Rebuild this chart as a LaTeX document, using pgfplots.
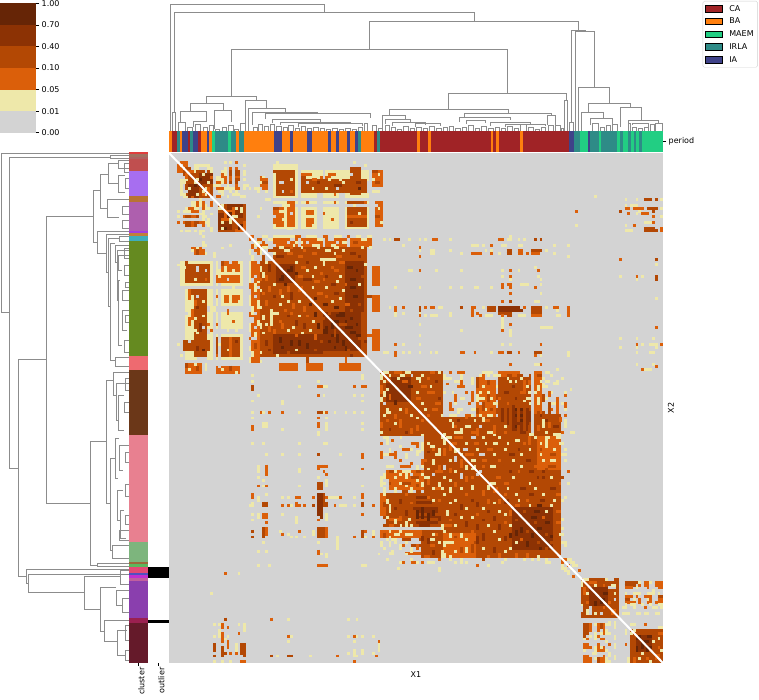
\documentclass[border=0pt]{standalone}
\usepackage{fontspec}
\setmainfont{DejaVu Sans}
\usepackage{pgfplots}
\usepackage{pgfplotstable}
\pgfplotsset{compat=1.18}
\definecolor{h0}{HTML}{D3D3D3}\definecolor{h1}{HTML}{EEE8AA}\definecolor{h2}{HTML}{DB5F0A}
\definecolor{h3}{HTML}{B34804}\definecolor{h4}{HTML}{8C3204}\definecolor{h5}{HTML}{662506}
\definecolor{pCA}{HTML}{A02326}\definecolor{pBA}{HTML}{FF7F0E}\definecolor{pMA}{HTML}{22CE83}
\definecolor{pIR}{HTML}{2E8B87}\definecolor{pIA}{HTML}{3F4289}
\definecolor{c1}{HTML}{E03C3C}\definecolor{c2}{HTML}{A07060}\definecolor{c3}{HTML}{B06060}\definecolor{c4}{HTML}{C04F4F}
\definecolor{c5}{HTML}{A76EF0}\definecolor{c6}{HTML}{B87333}\definecolor{c7}{HTML}{AE5FAE}\definecolor{c8}{HTML}{A040E0}
\definecolor{c9}{HTML}{C0803A}\definecolor{c10}{HTML}{3FAEBB}\definecolor{c11}{HTML}{658A20}\definecolor{c12}{HTML}{EE6A70}
\definecolor{c13}{HTML}{6B3718}\definecolor{c14}{HTML}{E88090}\definecolor{c15}{HTML}{7DB57D}\definecolor{c16}{HTML}{9B6B3B}
\definecolor{c17}{HTML}{5CB85C}\definecolor{c18}{HTML}{E34A75}\definecolor{c19}{HTML}{5050C0}\definecolor{c20}{HTML}{C030D0}
\definecolor{c21}{HTML}{C05F9F}\definecolor{c22}{HTML}{8A3FAE}\definecolor{c23}{HTML}{9B2050}\definecolor{c24}{HTML}{651A2A}
\pgfplotsset{heatmap cm/.style={colormap={heat}{color=(h0) color=(h1) color=(h2) color=(h3) color=(h4) color=(h5)},point meta min=0,point meta max=5},
 dd/.style={draw=black!45,line width=0.55pt,no marks}}
\pgfplotstableread{
x l c
169 2.7 1
171.7 5.3 0
177 3 3
180 2.3 1
182.3 5.4 4
187.7 2.6 0
190.3 2.7 3
193 5.3 4
198.3 2.7 0
201 5.7 1
206.7 2.6 4
209.3 2.7 1
212 3 2
215 13.3 3
228.3 2.7 2
231 5.3 3
236.3 2.7 1
239 5.3 3
244.3 30 1
274.3 8 4
282.3 8 1
290.3 2.7 4
293 13.7 1
306.7 5.3 4
312 16.3 1
328.3 2.7 4
331 5.3 1
336.3 2.7 4
339 8.3 1
347.3 2.7 4
350 5.3 1
355.3 2.7 4
358 2.7 3
360.7 13.6 1
374.3 2.7 0
377 2.7 3
379.7 37.6 0
417.3 2.7 1
420 8.3 0
428.3 2.7 1
431 59.7 0
490.7 2.6 1
493.3 2.7 0
496 2.7 1
498.7 21.3 0
520 2.7 1
522.7 46.3 0
569 5.3 4
574.3 5.3 3
579.7 8.3 2
588 2.3 4
590.3 8.7 3
599 2.3 2
601.3 16 3
617.3 2.7 2
620 2.7 3
622.7 5.6 2
628.3 2.7 3
631 2.7 2
633.7 2.6 3
636.3 2.7 2
639 2.7 3
641.7 21.3 2
}\per
\pgfplotstableread{
i j l c
14 47 14 0
14 54 14 0
14 55 14 0
14 62 14 0
14 63 14 0
15 73 13 0
4 47 5 0
4 56 5 0
4 65 1 0
38 16 40 0
38 18 3 0
46 18 30 0
38 27 42 0
46 23 4 1
54 16 2 1
30 47 3 0
30 56 3 0
30 65 3 0
48 15 24 1
65 22 7 2
18 19 2 1
20 20 3 2
24 19 1 1
23 22 2 1
19 23 3 2
25 25 2 5
21 21 2 5
26 20 1 5
19 26 2 1
24 27 3 2
4 3 3 2
5 4 2 2
9 4 6 1
6 5 2 3
9 5 2 1
14 5 2 1
7 6 2 2
9 6 1 1
13 6 1 0
15 6 1 1
12 7 1 1
15 8 1 2
10 9 1 1
14 10 1 1
11 11 1 5
13 12 1 1
14 13 1 1
11 9 1 5
12 14 2 2
20 3 1 1
22 3 1 1
24 3 1 2
27 4 1 1
20 5 1 1
22 5 1 2
24 5 1 2
19 6 2 1
22 6 1 3
24 6 2 3
27 6 1 1
19 7 1 2
20 7 1 1
22 7 1 3
24 7 2 3
27 7 1 1
17 8 2 1
19 8 2 2
22 8 1 2
24 8 2 2
17 9 3 1
20 9 1 2
22 9 1 2
24 9 2 3
27 9 1 1
17 10 2 2
19 10 1 1
20 10 1 2
22 10 1 3
24 10 1 3
16 11 3 1
21 11 1 1
24 11 1 2
27 11 2 1
17 12 3 2
20 12 4 1
24 12 2 2
27 12 1 1
29 12 1 1
18 13 2 1
22 13 1 1
24 13 1 1
19 14 1 1
23 14 3 1
17 15 2 2
21 15 1 1
26 15 2 1
33 8 1 2
34 8 1 1
33 9 3 2
33 10 1 1
34 10 2 3
33 11 3 2
31 12 2 1
34 12 2 2
32 13 1 1
35 13 1 1
39 3 1 1
38 6 5 3
44 5 1 1
40 5 1 1
38 9 1 1
43 6 3 3
48 6 2 1
52 6 3 1
58 6 2 1
61 6 4 1
67 3 1 1
71 4 1 1
48 7 4 2
54 7 3 1
58 7 3 2
61 7 2 1
48 8 2 3
51 8 3 1
55 8 4 2
60 8 4 1
40 10 2 0
44 9 1 1
41 13 1 0
44 13 1 2
52 9 2 2
58 9 1 1
62 9 1 1
50 10 1 0
54 10 1 4
60 11 3 4
63 10 1 1
52 12 1 1
57 12 1 1
61 12 1 0
50 14 2 1
56 14 1 1
60 14 1 2
62 15 1 2
72 9 1 1
66 7 1 0
68 10 2 4
69 12 1 5
74 6 2 3
76 7 1 1
74 9 1 1
75 10 2 3
74 13 3 1
35 16 2 1
33 19 1 1
32 22 1 1
38 19 2 3
40 20 2 1
38 22 1 0
41 23 1 1
39 25 3 2
43 18 1 1
44 21 1 0
46 17 1 1
43 26 2 1
50 17 1 2
50 19 2 1
52 20 1 2
50 22 3 1
51 24 1 2
52 25 1 1
56 17 2 1
60 17 1 2
58 19 4 1
55 21 2 2
60 21 3 1
56 23 2 1
59 23 1 2
62 24 1 1
57 25 3 1
67 18 1 1
69 21 1 1
71 17 1 2
66 24 1 4
76 19 1 1
75 22 2 3
77 24 1 1
29 29 2 2
34 29 2 1
38 29 8 1
46 29 2 2
50 29 4 1
56 29 2 2
60 29 3 1
65 29 1 2
68 29 2 1
72 29 2 1
32 30 2 2
36 30 2 1
41 30 1 2
44 30 2 0
47 30 2 2
51 30 2 2
54 30 3 1
58 30 2 0
62 30 2 2
66 30 3 2
70 30 2 1
31 31 2 1
34 31 1 2
39 31 2 2
43 31 1 0
46 31 3 1
50 31 1 0
53 31 2 2
57 31 3 2
61 31 1 0
63 31 2 1
67 31 2 3
33 32 3 2
38 32 1 0
40 32 3 2
45 32 1 1
48 32 2 2
52 32 3 1
56 32 1 2
59 32 2 1
64 32 2 2
69 32 3 2
34 33 2 1
40 33 2 1
44 33 1 2
48 33 1 1
54 33 1 1
60 33 2 1
70 33 1 1
36 34 2 3
42 34 2 1
49 34 1 2
57 34 2 1
63 34 1 1
38 35 1 1
43 35 2 2
52 35 2 2
60 35 1 1
66 35 2 4
39 36 3 4
47 36 2 2
55 37 6 1
61 36 2 2
69 36 1 4
73 33 1 1
46 38 1 1
50 38 1 4
56 38 1 1
56 39 1 1
62 38 2 2
71 39 1 1
44 40 1 5
48 40 2 2
53 40 1 1
59 40 1 2
65 40 2 5
43 41 2 5
50 41 1 1
55 42 1 2
60 41 2 2
68 41 1 5
46 42 1 5
47 43 2 2
52 43 1 1
57 43 1 4
62 43 1 1
70 43 1 3
49 44 3 4
56 44 1 2
61 45 1 1
66 44 2 5
53 45 2 2
59 46 2 4
64 46 1 2
69 46 1 1
52 47 1 1
48 47 1 2
57 47 1 1
66 47 2 5
63 48 1 1
54 49 2 2
60 49 2 4
50 50 1 4
57 50 1 2
67 50 2 5
53 51 1 5
62 51 1 1
59 52 1 1
64 53 2 2
56 53 2 5
69 53 1 3
60 54 2 5
66 55 1 3
58 56 1 3
62 56 2 5
68 56 1 4
61 57 3 5
66 58 1 5
71 58 1 3
64 59 1 5
60 59 2 5
62 60 3 3
68 60 1 5
64 61 3 5
70 62 1 3
66 63 2 5
68 64 2 5
69 65 1 3
71 66 1 4
70 67 1 3
72 64 3 2
72 50 2 3
78 30 1 1
80 30 1 1
82 30 2 3
87 30 1 1
91 30 1 1
93 30 1 1
96 30 2 2
102 30 1 1
120 30 2 2
123 30 2 1
127 30 1 1
129 30 1 1
133 30 1 3
135 30 1 3
124 29 1 1
85 32 1 1
110 32 3 1
114 32 1 1
117 32 1 2
121 32 2 1
127 32 2 1
140 32 1 1
145 32 1 1
91 33 1 2
91 34 1 1
95 34 2 1
95 35 2 1
102 34 1 1
106 35 1 1
110 35 4 2
115 34 1 1
117 34 1 1
117 35 1 2
120 35 1 1
123 34 2 3
123 35 2 3
127 34 2 2
127 35 2 2
130 35 1 2
132 34 4 3
132 35 3 2
137 34 1 1
140 35 1 1
145 36 1 1
91 36 1 2
164 37 1 2
177 37 1 3
177 39 1 1
133 40 1 1
87 41 2 1
91 41 1 2
97 41 1 1
106 41 1 1
121 41 1 1
124 41 1 2
127 41 1 1
134 41 1 2
121 43 1 1
124 43 1 2
134 43 1 1
164 43 1 1
170 43 1 2
172 43 1 1
177 43 1 3
177 44 1 3
124 44 1 1
135 44 1 1
170 44 1 1
82 47 1 1
91 47 1 1
102 47 1 1
106 47 1 1
111 47 2 1
117 47 1 1
121 46 1 2
121 47 1 2
123 46 2 2
124 47 1 2
128 46 3 1
133 47 1 2
135 46 1 1
124 49 1 2
135 49 1 1
177 51 1 1
124 52 1 3
121 52 1 2
133 52 2 1
80 54 1 1
82 54 1 2
85 54 1 2
91 54 1 3
93 54 1 2
95 54 2 2
98 54 2 1
106 54 1 3
110 54 2 2
114 54 1 1
116 54 3 3
120 54 8 4
129 54 1 2
132 54 4 3
137 54 1 1
140 54 2 2
145 54 1 2
82 55 1 2
91 55 1 3
110 55 1 2
116 55 3 3
120 55 9 4
132 55 4 3
141 55 1 1
145 55 1 2
82 56 1 1
85 56 1 1
91 56 1 1
102 56 1 1
110 56 1 2
112 56 1 2
120 56 5 3
132 56 4 3
145 56 1 2
82 57 1 1
91 57 1 2
93 57 1 1
95 57 3 1
102 57 1 1
110 57 1 2
113 57 1 2
115 57 3 1
121 57 1 2
123 57 2 3
127 57 3 1
132 57 4 2
141 57 2 1
145 57 1 2
121 58 1 1
121 59 1 1
121 60 1 1
121 61 1 1
124 60 1 2
121 62 1 2
124 62 1 1
124 63 1 1
124 64 1 1
91 60 1 1
91 64 1 1
106 62 1 1
135 61 5 1
177 61 1 2
164 65 1 1
170 65 1 1
176 65 1 1
82 67 1 2
85 67 1 1
91 67 1 1
121 67 1 1
124 67 1 1
135 67 1 2
170 67 1 2
172 67 1 1
175 67 2 1
177 67 1 1
179 67 1 2
164 68 1 1
170 68 1 1
177 68 1 1
78 70 2 1
82 70 1 2
85 70 1 1
87 70 1 1
91 70 1 1
95 70 1 1
97 70 1 1
106 70 2 2
111 70 1 2
117 70 1 1
120 70 2 2
123 70 2 3
127 70 1 2
133 70 3 3
145 70 1 1
170 70 1 1
175 70 2 1
82 71 1 2
133 71 1 2
135 71 1 1
145 71 1 1
124 74 1 2
133 74 2 1
135 74 1 2
170 74 1 1
176 74 1 1
177 75 1 2
172 76 1 2
173 76 3 1
166 16 1 1
170 16 1 1
173 16 3 3
177 16 1 3
179 16 1 1
155 15 1 1
166 18 1 1
168 18 3 1
166 19 2 2
169 19 4 2
174 19 4 3
179 19 1 1
148 20 1 2
164 20 1 3
171 20 1 1
176 20 1 3
167 21 1 2
170 21 1 1
172 21 3 2
176 22 1 2
179 22 1 1
173 24 3 1
176 24 1 2
148 25 1 1
166 25 1 1
169 25 1 2
173 26 4 3
179 26 1 2
166 27 3 1
173 27 5 3
179 27 1 2
78 77 2 1
82 77 3 2
86 77 2 1
90 77 4 3
95 77 2 2
98 77 1 1
102 77 1 2
105 77 3 2
114 77 4 1
120 77 8 2
133 77 3 2
137 77 2 1
141 76 1 1
80 78 1 1
84 78 2 1
88 78 1 0
92 78 1 1
96 78 2 3
113 78 2 1
118 78 2 1
121 78 2 2
125 78 3 2
129 78 2 0
134 78 2 3
139 78 1 1
83 79 1 1
90 79 2 1
94 79 1 2
100 79 3 1
106 79 1 1
112 79 2 2
122 79 2 1
128 79 1 1
136 79 1 1
143 79 1 1
85 80 2 2
91 80 1 1
97 80 1 4
104 80 2 1
110 81 1 1
116 81 2 2
124 80 3 1
133 80 1 1
135 80 1 1
137 80 2 1
140 81 1 1
87 82 2 5
92 82 2 2
95 82 1 1
105 82 3 2
112 82 1 1
114 82 1 1
118 82 2 1
125 82 1 4
129 82 2 1
137 82 1 1
146 83 1 1
86 84 1 4
90 84 1 1
94 84 3 2
103 84 1 1
108 84 1 2
113 84 1 1
116 84 1 1
122 84 2 4
128 84 1 2
133 84 1 1
138 84 2 1
144 84 1 1
90 86 2 2
98 86 1 4
106 86 2 1
110 86 1 2
112 86 3 1
117 86 1 1
120 86 1 2
126 86 2 4
130 86 2 1
137 86 1 1
141 86 1 1
92 88 1 1
97 88 2 2
104 88 1 1
109 88 1 2
113 88 1 0
118 88 2 1
123 88 1 2
131 88 1 1
134 88 1 1
139 88 2 1
143 88 1 1
93 90 1 1
96 90 2 2
102 90 2 2
106 90 1 1
110 90 2 1
115 90 1 1
118 90 1 2
126 90 3 5
133 91 3 2
138 90 2 2
144 90 1 1
94 92 1 2
99 92 1 1
103 92 2 1
108 92 2 2
113 92 1 1
116 92 2 1
125 92 4 5
135 92 2 4
141 92 2 3
102 94 1 1
105 94 1 4
111 94 1 1
115 94 2 2
121 94 1 2
127 94 3 5
136 94 2 4
144 94 1 1
108 96 2 1
113 96 1 0
118 96 1 1
122 96 1 1
126 96 2 5
134 96 1 1
140 96 2 4
144 96 1 1
104 98 3 1
110 98 2 2
116 98 2 1
122 98 1 2
128 98 2 4
137 98 1 1
143 98 1 2
146 98 2 1
100 99 1 1
118 99 1 1
131 99 2 1
140 99 3 1
101 100 2 1
104 100 3 2
110 100 2 0
114 100 1 1
120 100 1 1
126 101 2 1
133 100 1 1
137 100 2 1
141 100 2 1
103 102 2 2
108 102 1 1
111 102 2 2
115 102 1 1
118 102 2 1
123 102 1 1
129 102 1 2
134 102 2 1
138 102 1 2
142 102 2 1
104 104 2 1
107 104 2 0
112 104 1 1
116 104 2 2
122 104 1 1
127 104 1 4
131 104 1 1
135 104 1 3
140 104 1 1
144 104 1 1
106 106 1 1
108 106 3 2
113 106 2 0
118 106 1 1
124 106 2 4
128 106 1 1
134 106 2 1
139 106 2 3
143 106 2 1
108 108 1 2
110 108 2 1
114 108 2 2
120 108 1 2
125 108 1 1
130 108 2 4
136 108 1 1
140 108 1 1
144 108 1 1
111 110 1 1
114 110 1 2
117 110 2 1
122 110 1 4
128 110 1 1
133 110 2 2
138 110 3 3
113 112 1 0
116 112 2 3
123 112 2 4
127 112 1 2
131 112 2 4
135 112 3 4
141 112 2 3
145 112 1 2
115 114 2 3
119 114 2 2
125 114 1 1
129 114 1 4
134 114 3 4
139 114 1 1
143 114 1 3
117 116 2 1
122 116 2 2
126 116 1 4
131 116 1 1
136 116 2 3
142 116 1 2
145 116 1 1
119 118 1 2
123 118 1 1
128 118 2 4
133 118 1 1
139 118 2 4
122 120 2 2
126 120 1 1
131 120 2 4
136 120 1 1
141 120 2 2
144 121 1 1
123 122 1 4
127 122 1 1
130 122 1 2
135 122 2 4
140 122 1 1
143 122 1 1
126 124 2 2
131 124 1 1
134 124 2 5
139 124 1 1
129 126 1 3
133 126 2 5
137 126 1 1
141 126 2 2
132 128 2 5
136 128 1 2
140 128 1 3
143 129 1 1
133 130 1 3
137 130 2 5
141 130 2 2
134 132 2 5
140 132 1 3
143 132 1 1
137 134 1 3
139 135 1 5
142 134 2 1
139 137 2 3
144 138 1 1
143 137 2 1
145 143 2 1
146 144 2 1
147 145 2 1
149 147 1 2
143 143 2 2
145 145 1 2
146 146 1 1
151 150 2 1
153 151 3 2
159 150 1 1
160 150 2 0
160 153 3 0
161 152 2 1
162 155 1 1
158 152 1 2
162 157 1 0
155 152 1 1
156 154 1 4
158 155 2 5
157 157 2 5
160 158 1 2
159 160 3 3
161 161 2 2
166 151 5 3
171 151 1 1
173 151 2 2
175 151 1 1
177 151 3 2
166 152 4 3
171 152 1 2
173 152 2 2
177 152 3 2
166 153 3 2
170 153 1 1
174 153 1 2
178 153 2 2
170 154 3 0
176 154 1 1
166 155 1 1
169 155 3 1
174 155 3 1
178 155 1 1
166 156 3 2
170 156 1 2
173 156 3 2
178 156 2 3
166 157 2 3
169 157 1 1
171 157 1 2
174 157 1 1
175 157 1 2
178 157 2 2
166 158 4 2
171 158 1 2
174 158 2 2
177 158 3 2
166 159 1 1
168 159 2 1
172 159 1 1
175 159 1 1
178 159 2 1
165 160 2 1
169 160 1 1
173 160 1 2
176 160 2 1
179 160 1 1
165 162 3 1
170 162 2 1
173 162 2 1
177 162 2 1
168 166 2 1
173 166 1 2
178 167 2 1
169 168 1 1
175 168 1 3
176 169 1 3
178 169 2 2
171 170 1 5
174 170 2 5
173 172 2 5
178 171 1 1
176 172 1 1
174 174 2 5
178 174 1 2
175 175 1 3
179 175 1 1
177 177 2 2
178 178 2 3
78 100 2 1
81 101 1 2
84 100 1 1
88 102 2 2
92 102 1 1
95 103 2 1
85 104 3 2
90 105 2 1
96 104 1 2
78 106 1 1
80 106 3 2
86 107 1 1
92 108 2 2
97 106 1 1
79 110 2 1
84 110 4 2
92 110 1 1
95 110 2 3
79 112 4 3
85 112 3 1
90 112 2 3
97 112 3 2
78 114 2 2
82 114 1 1
88 114 3 3
93 114 2 1
97 115 2 3
78 116 1 1
80 116 2 3
85 116 3 3
90 117 1 3
93 117 4 3
96 118 3 2
80 118 3 2
85 119 2 3
90 119 2 3
78 120 1 1
83 121 4 3
90 121 5 4
96 121 3 3
79 122 4 3
85 123 3 3
90 123 6 4
97 124 3 3
79 125 3 3
84 125 2 3
89 125 7 4
78 127 5 3
85 127 3 3
90 127 5 3
96 127 3 3
80 129 5 2
87 129 1 1
90 129 8 3
80 131 2 2
84 131 1 1
91 131 4 4
96 131 2 3
78 133 3 2
82 134 2 1
86 134 3 1
91 134 3 3
96 134 2 2
81 136 2 1
85 136 3 3
91 136 2 3
94 136 3 1
84 138 2 2
88 138 5 3
95 138 2 2
80 141 2 1
86 141 6 2
93 142 2 2
85 144 1 2
88 144 2 2
92 144 1 2
95 144 1 1
100 122 4 3
106 122 5 3
112 123 3 3
100 125 3 3
105 126 5 3
112 126 5 3
100 128 5 3
107 129 4 3
113 129 4 3
100 131 3 2
105 132 6 3
113 132 4 3
100 134 4 2
106 134 4 2
112 135 5 3
101 137 3 1
106 137 3 2
111 137 6 3
103 139 2 2
108 139 1 1
113 140 5 3
119 120 2 3
119 123 3 3
119 128 2 3
119 133 2 3
}\hm
\newcommand\R[5]{\addplot[fill=h#5,draw=none] coordinates {(#1,#3)(#2,#3)(#2,#4)(#1,#4)} --cycle;
\addplot[fill=h#5,draw=none] coordinates {(#3,#1)(#4,#1)(#4,#2)(#3,#2)} --cycle;}
\newcommand\Ss[3]{\addplot[fill=#3,draw=none] coordinates {(129,#1)(148.3,#1)(148.3,#2)(129,#2)} --cycle;}
\begin{document}
\fontsize{8}{9.6}\selectfont
\begin{tikzpicture}[x=1pt,y=1pt]
\useasboundingbox (0,0) rectangle (759,699);
% dendrograms, in picture coordinates
\begin{axis}[at={(0pt,0pt)},anchor=south west,scale only axis,width=759pt,height=699pt,xmin=0,xmax=759,ymin=0,ymax=699,y dir=reverse,hide axis,clip=false,unbounded coords=jump]
\addplot[dd] coordinates {(170,131)(170,4.3)(324,4.3)(324,12.5)(nan,nan)
(174.5,112)(174.5,12.5)(474,12.5)(474,21.7)(nan,nan)
(172.5,131)(172.5,112)(175.7,112)(175.7,131)(nan,nan)
(369,49.3)(369,21.7)(578.3,21.7)(578.3,30)(nan,nan)
(231.3,96.7)(231.3,49.3)(507.7,49.3)(507.7,93.3)(nan,nan)
(448,109.5)(448,93.3)(566.3,93.3)(566.3,100)(nan,nan)
(564.7,131)(564.7,100)(567.7,100)(567.7,131)(nan,nan)
(389,115.7)(389,109.5)(508,109.5)(508,113)(nan,nan)
(464,117.7)(464,113)(551.7,113)(551.7,115.3)(nan,nan)
(547.3,125)(547.3,115.3)(555.7,115.3)(555.7,125)(nan,nan)
(382.3,131)(382.3,115.7)(405,115.7)(405,119)(nan,nan)
(571.3,122.7)(571.3,30)(585,30)(585,31.7)(nan,nan)
(569.7,131)(569.7,122.7)(573,122.7)(573,131)(nan,nan)
(575.7,131)(575.7,31.7)(594,31.7)(594,87.3)(nan,nan)
(578.3,131)(578.3,87.3)(609.7,87.3)(609.7,103)(nan,nan)
(588.3,112.3)(588.3,103)(630.7,103)(630.7,107.7)(nan,nan)
(581.3,131)(581.3,112.3)(603,112.3)(603,118)(nan,nan)
(620.3,127)(620.3,107.7)(641.7,107.7)(641.7,120)(nan,nan)
(628,123)(628,120)(658,120)(658,123)(nan,nan)
(590,125)(590,118)(612,118)(612,124)(nan,nan)
(206.7,103)(206.7,96.7)(256.7,96.7)(256.7,100.7)(nan,nan)
(190.3,111.7)(190.3,103)(223.3,103)(223.3,110)(nan,nan)
(180,122.7)(180,111.7)(206.7,111.7)(206.7,121.7)(nan,nan)
(193.3,127)(193.3,121.7)(206.7,121.7)(nan,nan)
(214.3,129)(214.3,110)(231.7,110)(231.7,122.3)(nan,nan)
(245.7,131)(245.7,100.7)(266.7,100.7)(266.7,108.3)(nan,nan)
(248.3,131)(248.3,108.3)(285.7,108.3)(285.7,112)(nan,nan)
(252.3,125)(252.3,112)(317.7,112)(317.7,113)(nan,nan)
(265.7,119)(265.7,113)(370,113)(370,118.3)(nan,nan)
(272,123)(272,119)(320,119)(320,122)(nan,nan)
(280,125)(280,122)(350,122)(350,123.5)(nan,nan)
(298,127)(298,123.5)(362,123.5)(362,126)(nan,nan)
(385,124)(385,119)(410,119)(410,122)(nan,nan)
(392,126)(392,122)(425,122)(425,125)(nan,nan)
(415,127)(415,123)(440,123)(440,126)(nan,nan)
(459,122)(459,117.7)(510,117.7)(510,120)(nan,nan)
(466,124)(466,120)(485,120)(485,123)(nan,nan)
(490,126)(490,122)(530,122)(530,125)(nan,nan)
(505,127)(505,124)(545,124)(545,126)(nan,nan)
(632,125)(632,123)(648,123)(648,127)(nan,nan)
};
\addplot[dd,const plot mark left] coordinates {(169.5,131)(177,131)(178.3,122.7)(185,131)(187,127)(192,131)(195,124)(200,131)(203,127)(207,131)(209,125)(213,131)(215,129)(219,131)(222,127)(226,131)(228,125)(233,131)(234,129)(238,131)(240,123)(245,131)
(253,127)(257,131)(258,124)(262,131)(264,126)(268,131)(270,124)(274,131)(276,126)(281,131)(283,127)(287,131)(288,125)(293,131)(295,128)(299,131)(301,126)(305,131)(307,128)(311,131)(313,127)(318,131)(320,128)(324,131)(326,129)(330,131)(332,128)(337,131)(339,129)(343,131)(345,128)(350,131)(352,129)(356,131)(358,127)(362,131)(364,123)(367,131)(372.3,125)(376,131)
(378,128)(382,131)(385,125)(389,131)(391,127)(395,131)(397,129)(401,131)(403,126)(408,131)(410,128)(414,131)(416,127)(421,131)(423,128)(427,131)(429,126)(434,131)(436,128)(441,131)(443,127)(447,131)(449,126)(453,131)(455,128)(460,131)(462,127)(466,131)(468,125)(473,131)(475,128)(479,131)(481,126)(486,131)(488,128)(493,131)(495,127)(499,131)(501,128)(505,131)(507,126)(512,131)(514,128)(518,131)(520,124)(526,131)(528,127)(533,131)(535,129)(539,131)(541,127)(545,131)(548,125)(553,131)(555.7,125)(560,131)(561,128)(563,131)
(592,123)(598,131)(600,127)(604,131)(606,125)(610,131)(612,124)(617,131)(628,123)(630,131)(632,127)(636,131)(638,128)(642,131)(644,127)(648,131)(650,124)(654,131)(655,123)(662,131)};
\addplot[dd] coordinates {(128.7,153.5)(1.5,153.5)(1.5,312.5)(9.3,312.5)(nan,nan)
(110,157)(9.3,157)(9.3,468)(18.7,468)(nan,nan)
(128.7,155.7)(110,155.7)(110,158)(128.7,158)(nan,nan)
(46.3,359.7)(18.7,359.7)(18.7,576)(26.3,576)(nan,nan)
(93.7,216.3)(46.3,216.3)(46.3,503)(90.3,503)(nan,nan)
(100,190.7)(93.7,190.7)(93.7,242.3)(97.7,242.3)(nan,nan)
(108.3,174)(100,174)(100,208.3)(107.3,208.3)(nan,nan)
(118,163.3)(108.3,163.3)(108.3,183.3)(118,183.3)(nan,nan)
(129,160)(118,160)(118,168)(129,168)(nan,nan)
(125,175)(118,175)(118,192)(125,192)(nan,nan)
(129,199.3)(107.3,199.3)(107.3,217.7)(119,217.7)(nan,nan)
(129,231.7)(97.7,231.7)(97.7,253.3)(106,253.3)(nan,nan)
(129,234.3)(106,234.3)(106,272.3)(108.3,272.3)(nan,nan)
(119.3,238.3)(108.3,238.3)(108.3,306)(110,306)(nan,nan)
(115,243.3)(110,243.3)(110,360.7)(115,360.7)(nan,nan)
(129,357.3)(115,357.3)(115,366.7)(129,366.7)(nan,nan)
(129,236)(119.3,236)(119.3,241)(129,241)(nan,nan)
(129,245)(115,245)(115,262)(117,262)(nan,nan)
(129,250)(117,250)(117,300)(118,300)(nan,nan)
(129,255)(118,255)(118,270)(122,270)(nan,nan)
(120,280)(118,280)(118,345)(122,345)(nan,nan)
(129,265)(124,265)(124,275)(129,275)(nan,nan)
(129,290)(122,290)(122,300)(129,300)(nan,nan)
(129,310)(122,310)(122,330)(127,330)(nan,nan)
(129,340)(124,340)(124,352)(129,352)(nan,nan)
(106.7,441.7)(90.3,441.7)(90.3,565)(97.3,565)(nan,nan)
(113.3,380)(106.7,380)(106.7,503)(110,503)(nan,nan)
(129,563)(97.3,563)(97.3,566)(129,566)(nan,nan)
(129,372.7)(113.3,372.7)(113.3,395)(116,395)(nan,nan)
(129,383)(116,383)(116,420)(118,420)(nan,nan)
(124,395)(118,395)(118,430)(124,430)(nan,nan)
(115,458)(110,458)(110,550)(112.3,550)(nan,nan)
(119,438)(115.7,438)(115.7,478)(118,478)(nan,nan)
(129,445)(119,445)(119,470)(123,470)(nan,nan)
(123,490)(117,490)(117,520)(120,520)(nan,nan)
(124,510)(120,510)(120,538)(126,538)(nan,nan)
(129,545)(112.3,545)(112.3,558)(129,558)(nan,nan)
(129,530)(119,530)(119,540)(129,540)(nan,nan)
(129,569.3)(26.3,569.3)(26.3,583.3)(28.3,583.3)(nan,nan)
(129,574.3)(28.3,574.3)(28.3,592.7)(84.3,592.7)(nan,nan)
(120,576.7)(84.3,576.7)(84.3,609.3)(100,609.3)(nan,nan)
(115.7,587.7)(100,587.7)(100,631)(104.3,631)(nan,nan)
(129,620)(104.3,620)(104.3,641.7)(117.3,641.7)(nan,nan)
(129,570)(120,570)(120,584)(129,584)(nan,nan)
(129,590)(116,590)(116,605)(122,605)(nan,nan)
(129,598)(122,598)(122,612)(129,612)(nan,nan)
(127,630)(117.3,630)(117.3,655)(125,655)(nan,nan)
(129,625)(125,625)(125,640)(129,640)(nan,nan)
(129,650)(125,650)(125,660)(129,660)(nan,nan)
(129,163)(124,163)(124,172)(129,172)(nan,nan)
(129,178)(125,178)(125,188)(129,188)(nan,nan)
(129,206)(122,206)(122,214)(129,214)(nan,nan)
(129,220)(122,220)(122,228)(129,228)(nan,nan)
(129,248)(124,248)(124,258)(129,258)(nan,nan)
(129,282)(125,282)(125,287)(129,287)(nan,nan)
(129,315)(125,315)(125,322)(129,322)(nan,nan)
(129,378)(125,378)(125,390)(129,390)(nan,nan)
(129,402)(124,402)(124,412)(129,412)(nan,nan)
(129,452)(125,452)(125,462)(129,462)(nan,nan)
(129,484)(125,484)(125,496)(129,496)(nan,nan)
(129,515)(125,515)(125,524)(129,524)(nan,nan)
};
\end{axis}
% heatmap
\begin{axis}[at={(169pt,36pt)},anchor=south west,scale only axis,width=494pt,height=510pt,xmin=0,xmax=180,ymin=0,ymax=180,y dir=reverse,
 axis line style={draw=none},xtick=\empty,ytick=\empty,axis background/.style={fill=h0},heatmap cm,
 xlabel={X1},ylabel={X2},yticklabel pos=right,xlabel style={yshift=-6pt},ylabel style={yshift=-2pt}]
\R{38}{47}{4}{27}{1}\R{48}{73}{6}{9}{1}\R{48}{73}{14}{27}{1}
\R{6}{16}{6}{15}{3}\R{11}{16}{7}{11}{4}
\R{18}{28}{18}{28}{3}\R{21}{27}{18}{23}{4}
\R{39}{43}{7}{15}{3}\R{43}{46}{6}{15}{3}\R{48}{72}{9}{14}{3}\R{66}{70}{5}{15}{3}\R{74}{78}{6}{12}{2}
\R{38}{42}{19}{25}{2}\R{43}{46}{17}{26}{2}\R{50}{53}{20}{26}{2}\R{65}{72}{17}{26}{3}\R{75}{78}{17}{26}{2}
\R{38}{74}{30}{33}{2}
\R{46}{72}{34}{72}{3}\R{38}{46}{37}{46}{3}\R{39}{46}{39}{46}{4}\R{38}{72}{33}{37}{3}
\R{52}{71}{52}{71}{3}\R{56}{70}{56}{70}{4}\R{64}{71}{38}{56}{4}
\R{74}{77}{40}{47}{2}\R{74}{77}{50}{56}{2}\R{74}{77}{62}{70}{2}
\R{77}{100}{77}{100}{3}\R{81}{88}{79}{88}{4}
\R{120}{132}{78}{100}{3}\R{125}{131}{90}{98}{4}\R{133}{136}{78}{92}{2}\R{133}{143}{92}{100}{3}\R{100}{120}{93}{100}{3}\R{112}{119}{80}{93}{2}
\R{100}{120}{100}{120}{3}\R{120}{143}{100}{142}{3}\R{134}{143}{100}{112}{2}\R{125}{140}{125}{140}{4}
\R{150}{164}{150}{164}{3}\R{153}{160}{153}{160}{4}
\R{168}{180}{168}{180}{3}\R{170}{176}{170}{176}{4}
\addplot[quiver={u=\thisrow{l},v=0,colored=mapped color},line width=2.95pt,point meta=\thisrow{c}] table[x=i,y expr=\thisrow{j}+0.5] {\hm};
\addplot[quiver={u=0,v=\thisrow{l},colored=mapped color},line width=2.85pt,point meta=\thisrow{c}] table[x expr=\thisrow{j}+0.5,y=i] {\hm};
\addplot[white,line width=2pt] coordinates {(0,0)(180,180)};
\end{axis}
% colour bar
\begin{axis}[at={(0pt,566.3pt)},anchor=south west,scale only axis,width=36pt,height=129.4pt,xmin=0,xmax=1,ymin=0,ymax=6,ytick={0,...,6},yticklabels={0.00,0.01,0.05,0.10,0.40,0.70,1.00},ytick pos=right,xtick=\empty,axis line style={draw=none},tick style={black,line width=0.6pt},tick align=outside,major tick length=3pt,yticklabel style={inner sep=1pt,xshift=1.5pt},/pgf/number format/assume math mode=true]
\addplot[fill=h0,draw=none] coordinates{(0,0)(1,0)(1,1)(0,1)}--cycle;
\addplot[fill=h1,draw=none] coordinates{(0,1)(1,1)(1,2)(0,2)}--cycle;
\addplot[fill=h2,draw=none] coordinates{(0,2)(1,2)(1,3)(0,3)}--cycle;
\addplot[fill=h3,draw=none] coordinates{(0,3)(1,3)(1,4)(0,4)}--cycle;
\addplot[fill=h4,draw=none] coordinates{(0,4)(1,4)(1,5)(0,5)}--cycle;
\addplot[fill=h5,draw=none] coordinates{(0,5)(1,5)(1,6)(0,6)}--cycle;
\end{axis}
% period strip and legend
\begin{axis}[at={(169pt,547.3pt)},anchor=south west,scale only axis,width=494pt,height=20.7pt,xmin=169,xmax=663,ymin=0,ymax=1,xtick=\empty,ytick={0.5},yticklabels={period},ytick pos=right,axis line style={draw=none},tick style={black,line width=0.6pt},tick align=outside,major tick length=3pt,yticklabel style={inner sep=1pt,xshift=1.5pt},
 colormap={per}{color=(pCA) color=(pBA) color=(pMA) color=(pIR) color=(pIA)},point meta min=0,point meta max=4,
 legend image code/.code={\fill[#1,sharp corners] (0pt,-3pt) rectangle (17pt,3.5pt);\path (22pt,0pt);},
 legend style={at={(1.192,7.28)},anchor=north east,font=\fontsize{8}{9.6}\selectfont,draw=black!18,rounded corners=1.5pt,row sep=1.7pt,inner sep=2pt},legend cell align=left]
\addplot[quiver={u=\thisrow{l},v=0,colored=mapped color},line width=20.7pt,point meta=\thisrow{c},forget plot] table[x=x,y expr=0.5] {\per};
\addlegendimage{fill=pCA}\addlegendentry{CA}
\addlegendimage{fill=pBA}\addlegendentry{BA}
\addlegendimage{fill=pMA}\addlegendentry{MAEM}
\addlegendimage{fill=pIR}\addlegendentry{IRLA}
\addlegendimage{fill=pIA}\addlegendentry{IA}
\end{axis}
% cluster and outlier strips
\begin{axis}[at={(129pt,36pt)},anchor=south west,scale only axis,width=40pt,height=510pt,xmin=129,xmax=169,ymin=153,ymax=663,y dir=reverse,ytick=\empty,xtick={138.5,158.5},xticklabels={cluster,outlier},axis line style={draw=none},tick style={black,line width=0.6pt},tick align=outside,major tick length=3pt,xtick pos=left,x tick label style={rotate=90,anchor=east,inner sep=1.5pt,yshift=-3pt},clip=false]
\Ss{151.7}{154}{c1}\Ss{154}{157.3}{c2}\Ss{157.3}{159.3}{c3}\Ss{159.3}{171}{c4}\Ss{171}{196}{c5}\Ss{196}{202}{c6}
\Ss{202}{231}{c7}\Ss{231}{233.3}{c8}\Ss{233.3}{236}{c9}\Ss{236}{241}{c10}\Ss{241}{356}{c11}\Ss{356}{370.3}{c12}
\Ss{370.3}{435}{c13}\Ss{435}{541.7}{c14}\Ss{541.7}{561.7}{c15}\Ss{561.7}{564}{c16}\Ss{564}{567.3}{c17}\Ss{567.3}{572.7}{c18}
\Ss{572.7}{575}{c19}\Ss{575}{578}{c20}\Ss{578}{581}{c21}\Ss{581}{617.7}{c22}\Ss{617.7}{623.3}{c23}\Ss{623.3}{663}{c24}
\addplot[fill=black,draw=none] coordinates {(148.3,566.7)(169,566.7)(169,578)(148.3,578)} --cycle;
\addplot[fill=black,draw=none] coordinates {(148.3,620)(169,620)(169,622.7)(148.3,622.7)} --cycle;
\end{axis}
\end{tikzpicture}
\end{document}
